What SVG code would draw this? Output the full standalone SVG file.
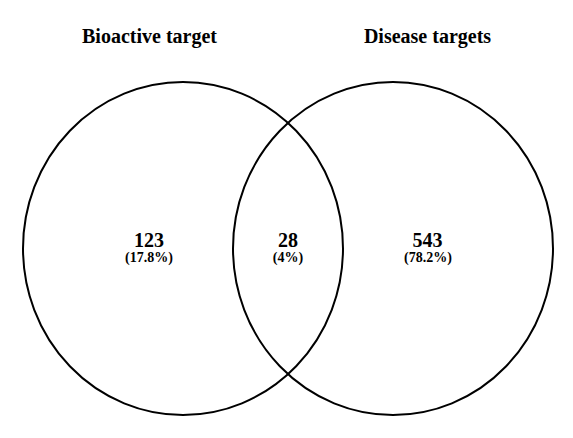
<svg xmlns="http://www.w3.org/2000/svg" width="573" height="438" viewBox="0 0 573 438">
<style>
.set{fill:none;stroke:#000;stroke-width:2}
.t{font-family:"Liberation Serif","Times New Roman",serif;font-weight:bold;fill:#000;text-anchor:middle}
.title{font-size:20px}
.num{font-size:20px}
.pct{font-size:14px}
</style>
<rect width="573" height="438" fill="#fff"/>
<g id="set-bioactive">
<ellipse class="set" cx="183" cy="248.5" rx="160" ry="166.5"/>
<text class="t title" x="149.5" y="43">Bioactive target</text>
</g>
<g id="set-disease">
<ellipse class="set" cx="393" cy="248.5" rx="160" ry="166.5"/>
<text class="t title" x="427.5" y="43">Disease targets</text>
</g>
<g id="region-left">
<text class="t num" x="149" y="247">123</text>
<text class="t pct" x="149" y="262">(17.8%)</text>
</g>
<g id="region-overlap">
<text class="t num" x="288" y="247">28</text>
<text class="t pct" x="288" y="262">(4%)</text>
</g>
<g id="region-right">
<text class="t num" x="427.5" y="247">543</text>
<text class="t pct" x="428" y="262">(78.2%)</text>
</g>
<g id="connectors"></g>
</svg>
